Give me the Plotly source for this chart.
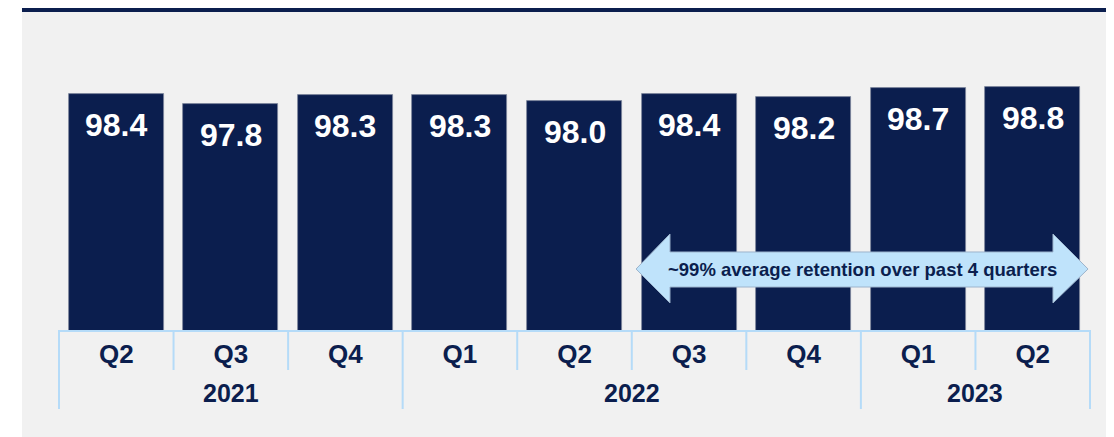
import plotly.graph_objects as go

quarters = ["Q2", "Q3", "Q4", "Q1", "Q2", "Q3", "Q4", "Q1", "Q2"]
years = ["2021", "2021", "2021", "2022", "2022", "2022", "2022", "2023", "2023"]
retention = [98.4, 97.8, 98.3, 98.3, 98.0, 98.4, 98.2, 98.7, 98.8]
arrow_text = "~99% average retention over past 4 quarters"

NAVY = "#0b1e4e"
LIGHT = "#b5dbf8"
FONT = "Liberation Sans, Arial, sans-serif"

n = len(retention)
xs = list(range(n))

fig = go.Figure()
fig.add_trace(go.Bar(
    x=xs, y=retention, width=0.83,
    marker=dict(color=NAVY, line=dict(color="#7d879c", width=0.8)),
    hoverinfo="skip",
))

shapes = []
# background panel and top strip
shapes.append(dict(type="rect", xref="paper", yref="paper", x0=-0.0359, x1=1.0194,
                   y0=-0.36, y1=1.0, fillcolor="#f1f1f1", line=dict(width=0), layer="below"))
shapes.append(dict(type="rect", xref="paper", yref="paper", x0=-0.0359, x1=1.0194,
                   y0=1.0, y1=1.0189, fillcolor=NAVY, line=dict(width=0), layer="below"))

def to_paper(b):
    return (b + 0.5) / n

year_bounds = [-0.5]
for i in range(1, n):
    if years[i] != years[i - 1]:
        year_bounds.append(i - 0.5)
year_bounds.append(n - 0.5)
for b in year_bounds:
    shapes.append(dict(type="line", xref="paper", yref="paper", ysizemode="pixel",
                       yanchor=0, x0=to_paper(b), x1=to_paper(b), y0=0, y1=-79,
                       line=dict(color=LIGHT, width=2)))
for i in range(1, n):
    b = i - 0.5
    if b not in year_bounds:
        shapes.append(dict(type="line", xref="paper", yref="paper", ysizemode="pixel",
                           yanchor=0, x0=to_paper(b), x1=to_paper(b), y0=0, y1=-40,
                           line=dict(color=LIGHT, width=2)))

# double-headed arrow (paper coords)
ax0, ax1, ax2, ax3 = 0.5597, 0.5926, 0.9641, 0.9981
ay_top, ay_st, ay_mid, ay_sb, ay_bot = 0.3019, 0.2453, 0.1918, 0.1352, 0.0849
path = (f"M{ax0},{ay_mid} L{ax1},{ay_top} L{ax1},{ay_st} L{ax2},{ay_st} L{ax2},{ay_top} "
        f"L{ax3},{ay_mid} L{ax2},{ay_bot} L{ax2},{ay_sb} L{ax1},{ay_sb} L{ax1},{ay_bot} Z")
shapes.append(dict(type="path", xref="paper", yref="paper", path=path,
                   fillcolor="#bfe3fb", line=dict(color="#9db4cc", width=1), layer="above"))

annotations = []
for x, v in zip(xs, retention):
    annotations.append(dict(x=x, y=v, xref="x", yref="y", text=f"{v:.1f}", showarrow=False,
                            xanchor="center", yanchor="top", yshift=-11,
                            font=dict(family=FONT, size=32, color="white", weight="bold")))
seen = []
for yv in years:
    if yv not in seen:
        seen.append(yv)
for yv in seen:
    idx = [i for i, y in enumerate(years) if y == yv]
    annotations.append(dict(x=(idx[0] + idx[-1]) / 2, y=0, xref="x", yref="paper",
                            text=yv, showarrow=False, xanchor="center", yanchor="middle",
                            yshift=-63,
                            font=dict(family=FONT, size=25, color=NAVY, weight="bold")))
annotations.append(dict(x=(ax0 + ax3) / 2, y=ay_mid, xref="paper", yref="paper",
                        text=arrow_text, showarrow=False, xanchor="center", yanchor="middle",
                        font=dict(family=FONT, size=18.5, color=NAVY, weight="bold")))

# page body has an 8px margin: figure is sized/offset so the plot lands where the reference has it
fig.update_layout(
    width=1106, height=429,
    margin=dict(l=51, r=24, t=4, b=107),
    paper_bgcolor="white", plot_bgcolor="rgba(0,0,0,0)",
    showlegend=False, bargap=0,
    shapes=shapes, annotations=annotations,
    xaxis=dict(range=[-0.5, n - 0.5], tickvals=xs, ticktext=quarters, ticks="",
               showline=True, linecolor=LIGHT, linewidth=2, showgrid=False, zeroline=False,
               ticklabelstandoff=0,
               tickfont=dict(family=FONT, size=26, color=NAVY, weight="bold")),
    yaxis=dict(range=[84.9, 103.07], visible=False, showgrid=False),
)

fig.write_html("out.html")
